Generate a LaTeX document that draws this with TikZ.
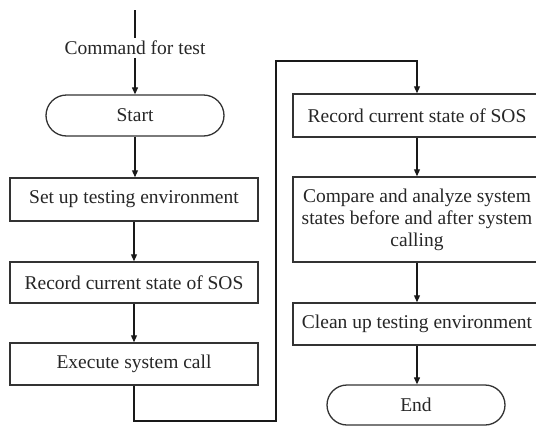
\documentclass[tikz,border=0pt]{standalone}
\usepackage{fontspec}
\setmainfont{Liberation Serif}
\usetikzlibrary{shapes.misc,arrows.meta}
\tikzset{
  txt/.style={font=\fontsize{19.5}{22}\selectfont, text=black!85},
  procbox/.style={txt, draw=black!80, line width=1.5pt, rectangle, minimum width=248pt, inner sep=0pt, align=center},
  termbox/.style={txt, draw=black!80, line width=1.3pt, rounded rectangle, minimum width=178pt, inner sep=0pt},
  flow/.style={draw=black!90, line width=1.2pt},
  arr/.style={flow, -{Triangle[length=7pt,width=6pt]}},
}
\begin{document}
\begin{tikzpicture}[x=1pt,y=-1pt]
  \useasboundingbox (0,0) rectangle (536,426);
  \clip (0,0) rectangle (536,426);

  % left column
  \coordinate (top) at (135,10);
  \node[txt] (cmd) at (135,48) {Command for test};
  \node[termbox, minimum height=41pt] (start) at (135,115.5) {Start};
  \node[procbox, minimum height=43pt] (setup) at (134,199.5) {Set up testing environment};
  \node[procbox, minimum height=41pt] (rec1) at (134,282.5) {Record current state of SOS};
  \node[procbox, minimum height=42pt] (exec) at (134,364) {Execute system call};

  % right column
  \node[procbox, minimum height=85pt] (cmp) at (417,219.5) {Compare and analyze system\\states before and after system\\calling};
  \node[procbox, minimum height=43pt] (rec2) at (417,115.5) {Record current state of SOS};
  \node[procbox, minimum height=42pt] (clean) at (417,324) {Clean up testing environment};
  \node[termbox, minimum height=40pt] (end) at (416,405) {End};

  % routing points of the connector between columns
  \coordinate (b1) at (134,421);
  \coordinate (b2) at (276,421);
  \coordinate (t1) at (276,61);
  \coordinate (t2) at (417,61);

  \draw[flow] (top) -- (cmd.north);
  \draw[arr] (cmd.south) -- (start.north);
  \draw[arr] (start.south) -- (start.south |- setup.north);
  \draw[arr] (setup.south) -- (rec1.north);
  \draw[arr] (rec1.south) -- (exec.north);
  \draw[arr] (exec.south) -- (b1) -- (b2) -- (t1) -- (t2) -- (rec2.north);
  \draw[arr] (rec2.south) -- (cmp.north);
  \draw[arr] (cmp.south) -- (clean.north);
  \draw[arr] (clean.south) -- (clean.south |- end.north);
\end{tikzpicture}
\end{document}
